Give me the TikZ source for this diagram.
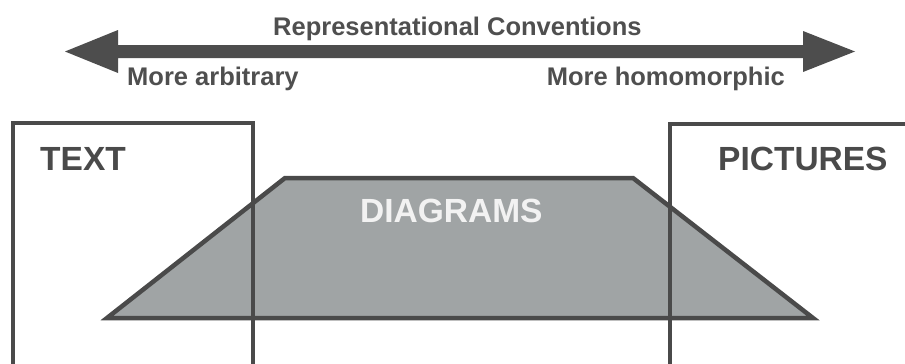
\documentclass[tikz,border=0pt]{standalone}
\usepackage{fontspec}
\setmainfont{Liberation Sans}
\begin{document}
\begin{tikzpicture}[x=1pt,y=-1pt,
  dark/.style={draw=linegray,line width=4.5pt},
  lbl/.style={font=\fontsize{25.5}{28}\selectfont\bfseries,text=txtgray,inner sep=0pt},
  big/.style={font=\fontsize{33.5}{36}\selectfont\bfseries,inner sep=0pt}]
\definecolor{linegray}{HTML}{4A4A4A}
\definecolor{txtgray}{HTML}{4F4F4F}
\definecolor{fillgray}{HTML}{A0A4A5}
\definecolor{arrowgray}{HTML}{4D4D4D}
\useasboundingbox (0,0) rectangle (905,364);
\clip (0,0) rectangle (905,364);
\fill[white] (0,0) rectangle (905,364);
% arrow
\fill[arrowgray] (65,51.5) -- (118,30) -- (118,45) -- (803,45) -- (803,31) -- (855,51.5)
  -- (803,72) -- (803,58) -- (118,58) -- (118,73) -- cycle;
\node[lbl,anchor=base west] (conv) at (273,35) {Representational Conventions};
\node[lbl,anchor=base west] (arb) at (127,85) {More arbitrary};
\node[lbl,anchor=base east] (hom) at (785,85) {More homomorphic};
% diagram trapezoid
\draw[dark,fill=fillgray,line join=miter] (107,318) -- (285,178) -- (633,178) -- (813,318) -- cycle;
% boxes
\draw[dark] (13,123) rectangle (253,380);
\draw[dark] (670,124) rectangle (920,380);
\node[big,text=linegray,anchor=base west] (text) at (40,170) {TEXT};
\node[big,text=linegray,anchor=base west] (pict) at (718,170) {PICTURES};
\node[big,text=white!95!black,anchor=base west] (diag) at (360,222) {DIAGRAMS};
\end{tikzpicture}
\end{document}
